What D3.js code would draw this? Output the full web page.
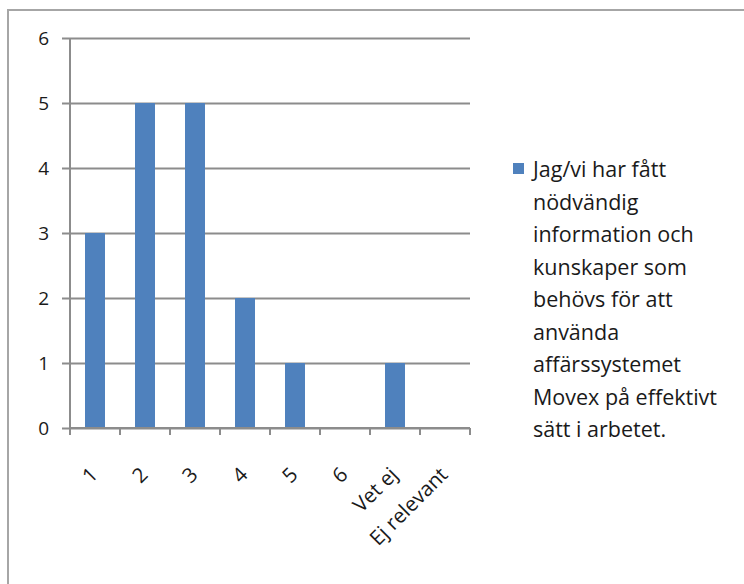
<!DOCTYPE html>
<html>
<head>
<meta charset="utf-8">
<script src="https://cdn.jsdelivr.net/npm/d3@7"></script>
<style>
  html, body { margin: 0; padding: 0; background: #fff; }
  svg { display: block; }
  text { font-family: "Open Sans", Lato, sans-serif; fill: #1a1a1a; }
</style>
</head>
<body>
<svg id="chart" width="744" height="584"></svg>
<script>
// Survey answers: number of respondents per score
const categories = ["1", "2", "3", "4", "5", "6", "Vet ej", "Ej relevant"];
const values = [3, 5, 5, 2, 1, 0, 1, 0];
const yTicks = [0, 1, 2, 3, 4, 5, 6];
const seriesLines = [
  "Jag/vi har fått",
  "nödvändig",
  "information och",
  "kunskaper som",
  "behövs för att",
  "använda",
  "affärssystemet",
  "Movex på effektivt",
  "sätt i arbetet."
];

const svg = d3.select("#chart");
const gridColor = "#8c8c8c";
const barColor = "#4f81bd";

// outer chart frame
svg.append("rect")
  .attr("x", 8).attr("y", 10)
  .attr("width", 760).attr("height", 600)
  .attr("fill", "#fff")
  .attr("stroke", "#a6a6a6")
  .attr("stroke-width", 2);

const plot = { left: 70, right: 470, top: 38, bottom: 428 };

const xBand = d3.scaleBand()
  .domain(categories)
  .range([plot.left, plot.right]);

const y = d3.scaleLinear()
  .domain([0, 6])
  .range([plot.bottom, plot.top]);

// horizontal gridlines with left tick stubs and labels
const yAxis = d3.axisLeft(y)
  .tickValues(yTicks)
  .tickFormat(d3.format("d"))
  .tickSize(-(plot.right - plot.left) - 8);

const gy = svg.append("g")
  .attr("transform", `translate(${plot.left - 8},0)`)
  .call(yAxis);
gy.select(".domain").remove();
gy.selectAll(".tick line")
  .attr("stroke", gridColor)
  .attr("stroke-width", 2);
gy.selectAll(".tick text")
  .attr("font-size", 19)
  .attr("dy", "0.36em")
  .attr("x", -13)
  .attr("fill", "#1a1a1a");

// vertical axis line
svg.append("line")
  .attr("x1", plot.left).attr("x2", plot.left)
  .attr("y1", plot.top).attr("y2", plot.bottom)
  .attr("stroke", gridColor)
  .attr("stroke-width", 2);

// bars
svg.append("g")
  .selectAll("rect")
  .data(categories.map((c, i) => ({ c, v: values[i] })))
  .join("rect")
  .attr("x", d => xBand(d.c) + (xBand.bandwidth() - 20) / 2)
  .attr("width", 20)
  .attr("y", d => y(d.v))
  .attr("height", d => y(0) - y(d.v))
  .attr("fill", barColor);

// category axis: ticks on band boundaries
svg.append("line")
  .attr("x1", plot.left).attr("x2", plot.right)
  .attr("y1", plot.bottom).attr("y2", plot.bottom)
  .attr("stroke", gridColor)
  .attr("stroke-width", 2);

const boundaries = categories.map(c => xBand(c)).concat([plot.right]);
svg.append("g")
  .selectAll("line")
  .data(boundaries)
  .join("line")
  .attr("x1", d => d).attr("x2", d => d)
  .attr("y1", plot.bottom).attr("y2", plot.bottom + 7)
  .attr("stroke", gridColor)
  .attr("stroke-width", 2);

// rotated category labels
svg.append("g")
  .selectAll("text")
  .data(categories)
  .join("text")
  .attr("transform", d => `translate(${xBand(d) + xBand.bandwidth() / 2 + 4},${plot.bottom + 48}) rotate(-45)`)
  .attr("text-anchor", "end")
  .attr("font-size", 20.5)
  .text(d => d);

// legend
const legend = svg.append("g").attr("transform", "translate(513,163)");
legend.append("rect")
  .attr("x", 0).attr("y", 0)
  .attr("width", 11).attr("height", 11)
  .attr("fill", barColor);
legend.append("g")
  .selectAll("text")
  .data(seriesLines)
  .join("text")
  .attr("x", 20)
  .attr("y", (d, i) => 14 + i * 32.5)
  .attr("font-size", 21.5)
  .text(d => d);
</script>
</body>
</html>
